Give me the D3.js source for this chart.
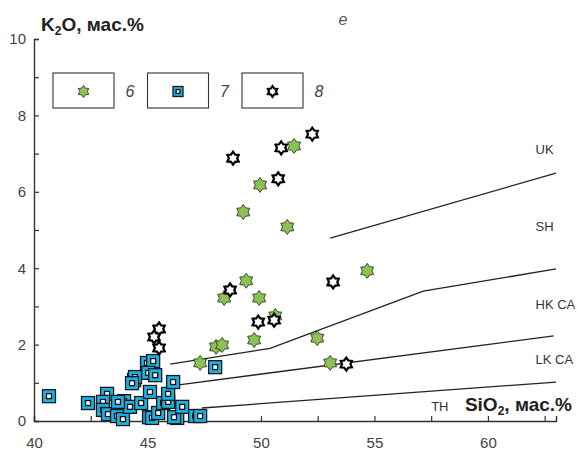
<!DOCTYPE html>
<html>
<head>
<meta charset="utf-8">
<script src="https://cdn.jsdelivr.net/npm/d3@7"></script>
<style>
  body { margin: 0; background: #fff; }
  svg { display: block; }
  text { font-family: "Liberation Sans", Arial, sans-serif; }
</style>
</head>
<body>
<svg id="chart" width="577" height="452"></svg>
<script>
// ---- data ----
const xTicks = [40, 42.5, 45, 47.5, 50, 52.5, 55, 57.5, 60, 62.5];
const yTicks = [0, 1, 2, 3, 4, 5, 6, 7, 8, 9, 10];

// series 6 (green stars): [SiO2, K2O]
const series6 = [
  [51.46, 7.20], [49.96, 6.18], [49.22, 5.47], [51.16, 5.08], [49.35, 3.67],
  [48.38, 3.22], [49.92, 3.22], [54.68, 3.93], [48.02, 1.94], [48.29, 1.99],
  [49.70, 2.12], [50.63, 2.75], [52.48, 2.17], [53.05, 1.52], [47.32, 1.52]
];
// series 7 (blue squares)
const series7 = [
  [40.66, 0.65], [42.38, 0.47], [43.22, 0.71], [43.04, 0.50], [43.04, 0.29],
  [43.26, 0.18], [43.66, 0.13], [43.92, 0.05], [43.97, 0.52], [44.23, 0.37],
  [43.70, 0.50], [44.41, 1.07], [44.45, 1.15], [44.32, 0.99], [44.72, 0.47],
  [45.11, 0.76], [45.07, 0.10], [45.20, 0.08], [45.47, 0.21], [45.69, 0.47],
  [45.91, 0.50], [45.91, 0.71], [46.13, 1.02], [46.31, 0.08], [46.17, 0.10],
  [46.53, 0.37], [47.10, 0.13], [47.32, 0.13], [44.98, 1.52], [45.25, 1.57],
  [45.03, 1.26], [45.34, 1.20], [47.98, 1.41]
];
// series 8 (open black stars)
const series8 = [
  [52.26, 7.51], [50.89, 7.15], [48.77, 6.88], [50.76, 6.34], [53.18, 3.64],
  [48.64, 3.43], [49.88, 2.59], [50.58, 2.64], [53.76, 1.49], [45.51, 2.41],
  [45.29, 2.20], [45.51, 1.91]
];

// classification boundaries
const boundaries = [
  { name: "UK/SH",    pts: [[53.05, 4.79], [63.0, 6.49]] },
  { name: "SH/HKCA",  pts: [[46.0, 1.49], [50.4, 1.90], [57.15, 3.40], [63.0, 3.98]] },
  { name: "HKCA/LKCA",pts: [[46.3, 0.94], [62.9, 2.23]] },
  { name: "LKCA/TH",  pts: [[47.4, 0.34], [63.0, 1.02]] }
];
const fieldLabels = [
  { text: "UK",    x: 62.1, y: 7.0 },
  { text: "SH",    x: 62.1, y: 4.98 },
  { text: "HK CA", x: 62.1, y: 2.92 },
  { text: "LK CA", x: 62.1, y: 1.48 },
  { text: "TH",    x: 57.5, y: 0.27 }
];
const legendItems = [
  { series: "6", label: "6" },
  { series: "7", label: "7" },
  { series: "8", label: "8" }
];

// ---- scales ----
const svg = d3.select("#chart");
const x = d3.scaleLinear().domain([40, 63]).range([34, 556]);
const y = d3.scaleLinear().domain([0, 10]).range([421, 39]);

// ---- axes ----
const axisColor = "#333";
const gx = svg.append("g").attr("transform", `translate(0,${y(0)})`)
  .call(d3.axisBottom(x).tickValues(xTicks).tickSize(-5).tickPadding(16)
    .tickFormat(d => (d % 5 === 0 ? d : "")));
const gy = svg.append("g").attr("transform", `translate(${x(40)},0)`)
  .call(d3.axisLeft(y).tickValues(yTicks).tickSize(-5).tickPadding(8)
    .tickFormat(d => (d % 2 === 0 ? d : "")));
[gx, gy].forEach(g => {
  g.select(".domain").attr("stroke", axisColor).attr("stroke-width", 1.4);
  g.selectAll(".tick line").attr("stroke", axisColor).attr("stroke-width", 1.2);
  g.selectAll(".tick text").attr("fill", "#444").style("font-size", "15px")
    .style("font-family", '"Liberation Sans", Arial, sans-serif');
});

// ---- boundary lines ----
const line = d3.line().x(d => x(d[0])).y(d => y(d[1]));
svg.append("g").selectAll("path").data(boundaries).join("path")
  .attr("d", d => line(d.pts)).attr("fill", "none")
  .attr("stroke", "#222").attr("stroke-width", 1.3);

svg.append("g").selectAll("text").data(fieldLabels).join("text")
  .attr("x", d => x(d.x)).attr("y", d => y(d.y))
  .attr("fill", "#333").style("font-size", "13px").text(d => d.text);

// ---- marker drawing ----
function hexagram(r) {
  const ri = r * 0.64;
  const p = [];
  for (let i = 0; i < 12; i++) {
    const a = -Math.PI / 2 + i * Math.PI / 6;
    const rr = i % 2 === 0 ? r : ri;
    p.push([rr * Math.cos(a), rr * Math.sin(a)]);
  }
  return "M" + p.map(q => q[0].toFixed(2) + "," + q[1].toFixed(2)).join("L") + "Z";
}
function drawSquare(g, s) {
  g.append("rect").attr("x", -s / 2).attr("y", -s / 2).attr("width", s).attr("height", s)
    .attr("fill", "#19b2e4").attr("stroke", "#1a1a1a").attr("stroke-width", 1.3);
  const si = s * 0.38;
  g.append("rect").attr("x", -si / 2).attr("y", -si / 2).attr("width", si).attr("height", si)
    .attr("fill", "#fff").attr("stroke", "#111").attr("stroke-width", 1.3);
}
function drawGreen(g, r) {
  g.append("path").attr("d", hexagram(r)).attr("fill", "#8cc153")
    .attr("stroke", "#3a4a30").attr("stroke-width", 1);
}
function drawOpen(g, r) {
  g.append("path").attr("d", hexagram(r)).attr("fill", "#fff")
    .attr("stroke", "#000").attr("stroke-width", 2.2);
}

// squares first, then green, then open stars
svg.append("g").selectAll("g").data(series7).join("g")
  .attr("transform", d => `translate(${x(d[0])},${y(d[1])})`)
  .each(function () { drawSquare(d3.select(this), 13); });
svg.append("g").selectAll("g").data(series6).join("g")
  .attr("transform", d => `translate(${x(d[0])},${y(d[1])})`)
  .each(function () { drawGreen(d3.select(this), 7.5); });
svg.append("g").selectAll("g").data(series8).join("g")
  .attr("transform", d => `translate(${x(d[0])},${y(d[1])})`)
  .each(function () { drawOpen(d3.select(this), 6.5); });

// ---- legend ----
const boxW = 61, boxH = 35, boxX0 = 53, boxY = 73, boxStep = 94.5;
const lg = svg.append("g").selectAll("g").data(legendItems).join("g")
  .attr("transform", (d, i) => `translate(${boxX0 + i * boxStep},${boxY})`);
lg.append("rect").attr("width", boxW).attr("height", boxH)
  .attr("fill", "#fff").attr("stroke", "#333").attr("stroke-width", 1.1);
lg.append("text").attr("x", boxW + 16).attr("y", boxH / 2 + 6)
  .attr("text-anchor", "middle").attr("fill", "#444")
  .style("font-size", "16px").style("font-style", "italic").text(d => d.label);
lg.each(function (d) {
  const m = d3.select(this).append("g").attr("transform", `translate(${boxW / 2},${boxH / 2 + 1})`);
  if (d.series === "6") drawGreen(m, 6);
  else if (d.series === "7") drawSquare(m, 10);
  else drawOpen(m, 5.3);
});

// ---- titles ----
const yt = svg.append("text").attr("x", 41).attr("y", 31).attr("fill", "#222")
  .style("font-size", "19px").style("font-weight", "bold");
yt.append("tspan").text("K");
yt.append("tspan").attr("dy", 4).style("font-size", "12px").text("2");
yt.append("tspan").attr("dy", -4).text("O, мас.%");

const xt = svg.append("text").attr("x", 572).attr("y", 411).attr("text-anchor", "end")
  .attr("fill", "#222").style("font-size", "19px").style("font-weight", "bold");
xt.append("tspan").text("SiO");
xt.append("tspan").attr("dy", 4).style("font-size", "12px").text("2");
xt.append("tspan").attr("dy", -4).text(", мас.%");

svg.append("text").attr("x", 343).attr("y", 25).attr("text-anchor", "middle")
  .attr("fill", "#555").style("font-size", "16px").style("font-style", "italic").text("е");
</script>
</body>
</html>
